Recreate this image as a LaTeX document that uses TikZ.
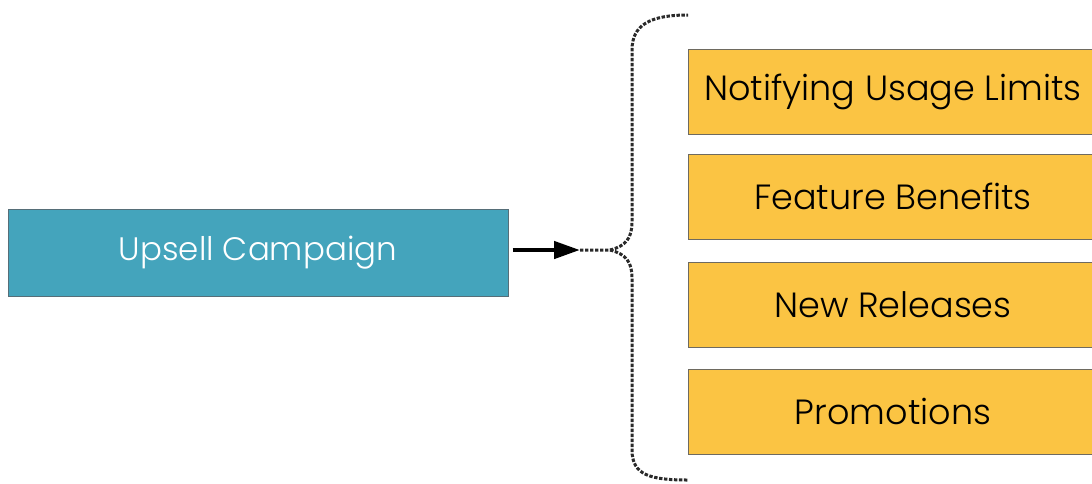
\documentclass[tikz,border=0pt]{standalone}
\usepackage{fontspec}
\setmainfont{Poppins}[UprightFont=* Light]
\usetikzlibrary{arrows.meta}
\definecolor{teal}{HTML}{44A4BC}
\definecolor{tealline}{HTML}{566E78}
\definecolor{amber}{HTML}{FBC443}
\definecolor{amberline}{HTML}{6E6A60}
\definecolor{bracegray}{HTML}{2A2A2A}
\tikzset{
  campaign/.style={draw=tealline, line width=1pt, fill=teal, text=white,
    minimum width=500pt, minimum height=87pt, inner sep=0pt, font=\fontsize{32.5}{38}\selectfont},
  topic/.style={draw=amberline, line width=1pt, fill=amber, text=black,
    minimum width=410pt, minimum height=85pt, inner sep=0pt, font=\fontsize{35}{40}\selectfont},
  bracket/.style={draw=bracegray, line width=3pt, dash pattern=on 3.4pt off 1.6pt},
  push/.style={line width=4.5pt, -{Triangle[length=26pt,width=17pt]}}
}
\begin{document}
\begin{tikzpicture}[x=1pt,y=-1pt]
  \useasboundingbox (0,0) rectangle (1092,483);
  \clip (0,0) rectangle (1092,483);
  % source box
  \node[campaign] (upsell) at (258,252.5) {\raisebox{-2pt}{Upsell Campaign}};
  % campaign topics
  \node[topic] (t1) at (893,91.5)  {\raisebox{-2pt}{Notifying Usage Limits}};
  \node[topic] (t2) at (893,196.5) {\raisebox{-2pt}{Feature Benefits}};
  \node[topic] (t3) at (893,304.5) {\raisebox{-2pt}{New Releases}};
  \node[topic] (t4) at (893,411.5) {\raisebox{-2pt}{Promotions}};
  % brace grouping the topics
  \coordinate (tip) at (580,250);
  \coordinate (top) at (688,15);
  \coordinate (bottom) at (688,480);
  \draw[bracket] (tip) -- (610,250)
    .. controls (626,246) and (632,238) .. (632,222)
    -- (632,50)
    .. controls (632,25) and (650,15) .. (top);
  \draw[bracket] (610,250)
    .. controls (626,254) and (632,262) .. (632,278)
    -- (632,450)
    .. controls (632,475) and (650,480) .. (bottom);
  % arrow into the brace
  \draw[push] (upsell.east |- tip) ++(4,0) -- (tip);
\end{tikzpicture}
\end{document}
